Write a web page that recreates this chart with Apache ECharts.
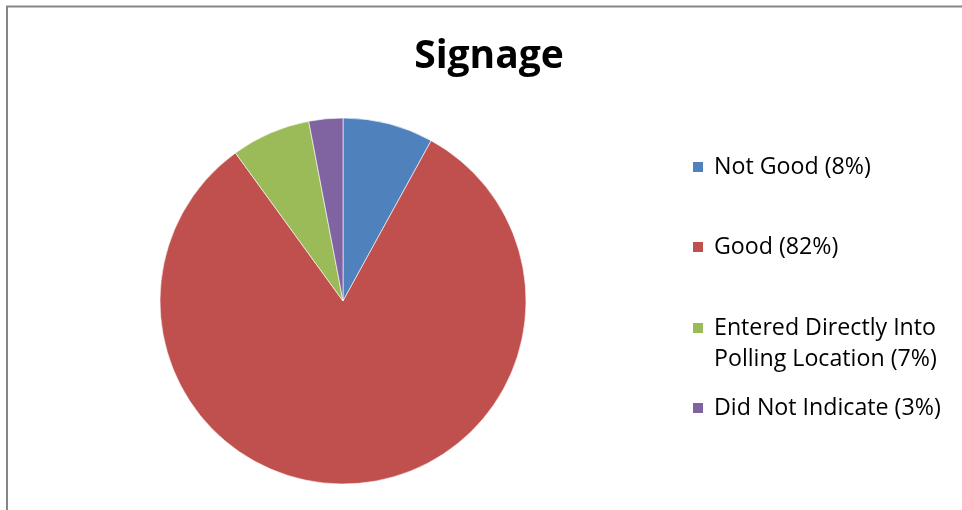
<!DOCTYPE html>
<html>
<head>
<meta charset="utf-8">
<script src="https://cdn.jsdelivr.net/npm/echarts@6/dist/echarts.min.js"></script>
<style>
html,body{margin:0;padding:0;background:#fff;}
#chart{width:962px;height:510px;}
</style>
</head>
<body>
<div id="chart"></div>
<script>
const titleText = 'Signage';
const categories = ['Not Good (8%)', 'Good (82%)', 'Entered Directly Into Polling Location (7%)', 'Did Not Indicate (3%)'];
const legendLines = [['Not Good (8%)'], ['Good (82%)'], ['Entered Directly Into', 'Polling Location (7%)'], ['Did Not Indicate (3%)']];
const values = [8, 82, 7, 3];
const colors = ['#4F81BD', '#C0504D', '#9BBB59', '#8064A2'];

const FONT = '"Open Sans", sans-serif';
const chart = echarts.init(document.getElementById('chart'), null, {renderer: 'canvas'});

const legendTops = [[152], [232], [313, 344], [393]];
const legends = [];
categories.forEach((c, i) => {
  legendLines[i].forEach((line, j) => {
    legends.push({
      data: [c],
      orient: 'vertical',
      left: 691,
      top: legendTops[i][j],
      padding: 0,
      itemWidth: 12,
      itemHeight: 12,
      itemGap: 0,
      selectedMode: false,
      icon: 'rect',
      itemStyle: j === 0 ? {} : {opacity: 0},
      formatter: () => line,
      textStyle: {
        fontFamily: FONT,
        fontSize: 23.2,
        color: '#000',
        lineHeight: 30,
        padding: [0, 0, 0, 5]
      }
    });
  });
});

chart.setOption({
  animation: false,
  title: {
    text: titleText,
    left: 484,
    textAlign: 'center',
    top: 32,
    textStyle: {fontFamily: FONT, fontSize: 39, fontWeight: 'bold', color: '#000'}
  },
  legend: legends,
  graphic: [{
    type: 'rect',
    shape: {x: 7, y: 6.5, width: 1000, height: 600},
    style: {fill: 'none', stroke: '#868686', lineWidth: 2},
    silent: true
  }],
  series: [{
    type: 'pie',
    center: [343, 301],
    radius: 183,
    startAngle: 90,
    clockwise: true,
    label: {show: false},
    labelLine: {show: false},
    emphasis: {disabled: true},
    itemStyle: {borderColor: '#ffffff', borderWidth: 0.6},
    data: categories.map((c, i) => ({name: c, value: values[i], itemStyle: {color: colors[i]}}))
  }]
});
</script>
</body>
</html>
